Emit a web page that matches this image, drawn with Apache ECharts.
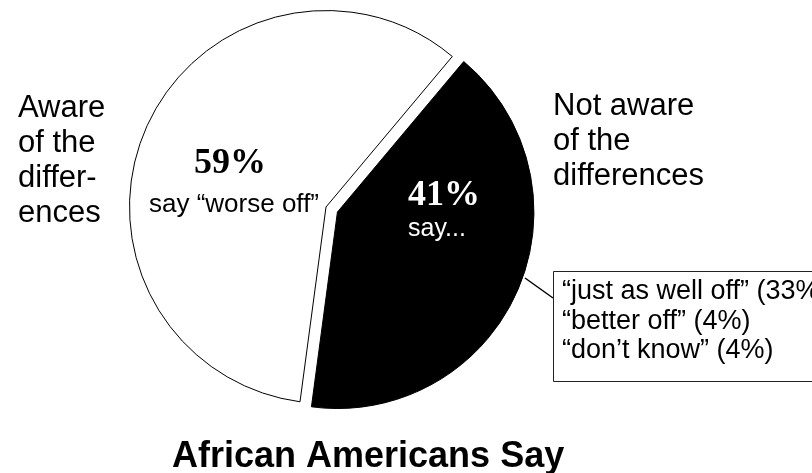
<!DOCTYPE html>
<html>
<head>
<meta charset="utf-8">
<script src="https://cdn.jsdelivr.net/npm/echarts@6/dist/echarts.min.js"></script>
<style>
html,body{margin:0;padding:0;background:#fff;}
#chart{width:812px;height:473px;}
</style>
</head>
<body>
<div id="chart"></div>
<script>
// Data
var categories = ['Not aware of the differences', 'Aware of the differences'];
var values = [41, 59];
var sliceColors = ['#000000', '#ffffff'];
var sideLabels = ['Not aware\nof the\ndifferences', 'Aware\nof the\ndiffer-\nences'];
var sliceNotes = ['say...', 'say \u201cworse off\u201d'];
var breakdownLabels = ['\u201cjust as well off\u201d', '\u201cbetter off\u201d', '\u201cdon\u2019t know\u201d'];
var breakdownValues = [33, 4, 4];
var titleText = 'African Americans Say';

var SANS = '"Liberation Sans", Arial, Helvetica, sans-serif';
var SERIF = '"Liberation Serif", "Times New Roman", serif';

var chart = echarts.init(document.getElementById('chart'), null, {renderer: 'canvas'});

var pieData = categories.map(function (c, i) {
  return {
    name: c,
    value: values[i],
    selected: i === 0,
    itemStyle: {
      color: sliceColors[i],
      borderColor: '#000',
      borderWidth: 1
    }
  };
});

var breakdownText = breakdownLabels.map(function (l, i) {
  return l + ' (' + breakdownValues[i] + '%)';
}).join('\n');

var option = {
  animation: false,
  backgroundColor: '#ffffff',
  series: [{
    type: 'pie',
    z: 1,
    center: [326, 207],
    radius: [0, 196.5],
    startAngle: 50,
    clockwise: true,
    selectedMode: 'single',
    selectedOffset: 12.5,
    silent: true,
    label: {show: false},
    labelLine: {show: false},
    emphasis: {disabled: true},
    data: pieData
  }],
  graphic: {
    elements: [
      {type: 'text', z: 100, x: 18, y: 91, style: {text: sideLabels[1], font: '31px ' + SANS, fill: '#000', lineHeight: 35, align: 'left', verticalAlign: 'top'}},
      {type: 'text', z: 100, x: 553, y: 89, style: {text: sideLabels[0], font: '31px ' + SANS, fill: '#000', lineHeight: 35, align: 'left', verticalAlign: 'top'}},
      {type: 'text', z: 100, x: 230, y: 164, style: {text: values[1] + '%', font: 'bold 36px ' + SERIF, fill: '#000', align: 'center', verticalAlign: 'middle'}},
      {type: 'text', z: 100, x: 234, y: 205, style: {text: sliceNotes[1], font: '26px ' + SANS, fill: '#000', align: 'center', verticalAlign: 'middle'}},
      {type: 'text', z: 100, x: 444, y: 196, style: {text: values[0] + '%', font: 'bold 36px ' + SERIF, fill: '#fff', align: 'center', verticalAlign: 'middle'}},
      {type: 'text', z: 100, x: 437, y: 229, style: {text: sliceNotes[0], font: '25px ' + SANS, fill: '#fff', align: 'center', verticalAlign: 'middle'}},
      {type: 'line', z: 100, shape: {x1: 525, y1: 278, x2: 553, y2: 298}, style: {stroke: '#000', lineWidth: 1.5}},
      {type: 'rect', z: 100, shape: {x: 553.5, y: 271.5, width: 290, height: 110}, style: {fill: '#fff', stroke: '#222', lineWidth: 1}},
      {type: 'text', z: 101, x: 562, y: 277, style: {text: breakdownText, font: '27px ' + SANS, fill: '#000', lineHeight: 29.5, align: 'left', verticalAlign: 'top'}},
      {type: 'text', z: 100, x: 172, y: 457, style: {text: titleText, font: 'bold 36px ' + SANS, fill: '#000', align: 'left', verticalAlign: 'middle'}}
    ]
  }
};
chart.setOption(option);
</script>
</body>
</html>
